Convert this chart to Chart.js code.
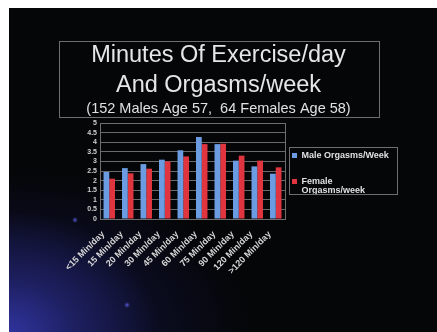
<!DOCTYPE html>
<html>
<head>
<meta charset="utf-8">
<script src="https://cdn.jsdelivr.net/npm/chart.js@4.4.1/dist/chart.umd.min.js"></script>
<style>
  html, body { margin: 0; padding: 0; background: #ffffff; }
  #slide {
    position: absolute; left: 9px; top: 8px; width: 428px; height: 324px;
    background:
      radial-gradient(circle 3px at 66px 212px, rgba(90,90,220,0.9), rgba(90,90,220,0)),
      radial-gradient(circle 3px at 118px 297px, rgba(90,90,220,0.9), rgba(90,90,220,0)),
      radial-gradient(ellipse 150px 120px at 0% 100%, rgba(52,56,170,0.85) 0%, rgba(40,42,130,0.55) 45%, rgba(5,6,8,0) 100%),
      radial-gradient(ellipse 240px 160px at 0% 100%, rgba(30,32,110,0.6) 0%, rgba(5,6,8,0) 100%),
      #050608;
  }
  #wrap { position: absolute; left: 0; top: 0; width: 437px; height: 332px; }
</style>
</head>
<body>
<div id="slide"></div>
<div id="wrap"><canvas id="c" width="437" height="332"></canvas></div>
<script>
// Exercise groups (minutes per day)
const categories = ['<15 Min/day', '15 Min/day', '20 Min/day', '30 Min/day', '45 Min/day',
                    '60 Min/day', '75 Min/day', '90 Min/day', '120 Min/day', '>120 Min/day'];
// Average orgasms per week
const maleValues   = [2.45, 2.65, 2.86, 3.09, 3.58, 4.27, 3.9, 3.04, 2.74, 2.36];
const femaleValues = [2.1, 2.38, 2.62, 3.0, 3.26, 3.9, 3.92, 3.3, 3.04, 2.69];
const seriesNames  = ['Male Orgasms/Week', 'Female Orgasms/week'];
// Legend text, one entry per line
const legendLines  = [['Male Orgasms/Week', ''], ['Female', 'Orgasms/week']];
const yMin = 0, yMax = 5, yStep = 0.5;

const FONT = 'Liberation Sans, Arial, sans-serif';
const LEGEND_FONT_SIZE = 9, LEGEND_BOX = 5, LEGEND_PAD = 7;
const PLOT_LEFT = 100, PLOT_RIGHT = 285;

// Width the legend takes, so the plot area ends at PLOT_RIGHT
const measure = document.createElement('canvas').getContext('2d');
measure.font = `bold ${LEGEND_FONT_SIZE}px ${FONT}`;
const legendTextW = Math.max(...legendLines.flat().map(t => measure.measureText(t).width));
const legendW = LEGEND_PAD + LEGEND_BOX + LEGEND_FONT_SIZE / 2 + legendTextW + 10;
const rightPad = 437 - PLOT_RIGHT - legendW;
// Side boxes are capped at a quarter of the free width; widen the free width on the left
const leftPad = -Math.max(0, Math.ceil(3 * legendW - PLOT_RIGHT) + 2);

// Title and subtitle span the whole canvas width
const centerTitles = {
  id: 'centerTitles',
  afterLayout(chart) {
    chart.boxes.forEach(b => {
      if (b.fullSize && b.position === 'top') { b.left = 0; b.right = chart.width; b.width = chart.width; }
    });
  }
};

// Frames around the title block, the plot area and the legend
const framePlugin = {
  id: 'frames',
  afterDraw(chart) {
    const ctx = chart.ctx;
    const ca = chart.chartArea;
    ctx.save();
    ctx.strokeStyle = '#6e6e6e';
    ctx.lineWidth = 1;
    const cx = chart.width / 2;
    const tTop = chart.titleBlock.top;
    const tBottom = Math.round(ca.top) - 6;
    ctx.strokeRect(Math.round(cx - 160) + 0.5, tTop + 0.5, 320, tBottom - tTop);
    ctx.strokeRect(Math.round(ca.left) + 0.5, Math.round(ca.top) + 0.5,
                   Math.round(ca.right - ca.left), Math.round(ca.bottom - ca.top));
    const boxes = chart.legend.legendHitBoxes;
    if (boxes && boxes.length) {
      const l = Math.round(ca.right) + 4;
      const t = Math.min(...boxes.map(b => b.top)) - 4;
      const r = 397;
      const b = t + 47;
      ctx.strokeRect(l + 0.5, Math.round(t) + 0.5, r - l, Math.round(b - t));
    }
    ctx.restore();
  }
};

new Chart(document.getElementById('c'), {
  type: 'bar',
  data: {
    labels: categories,
    datasets: [
      { label: seriesNames[0], data: maleValues, backgroundColor: '#6b9be0' },
      { label: seriesNames[1], data: femaleValues, backgroundColor: '#e0343f' }
    ]
  },
  options: {
    responsive: false,
    animation: false,
    devicePixelRatio: 1,
    categoryPercentage: 0.62,
    barPercentage: 1,
    layout: { padding: { top: 41, left: leftPad, right: rightPad, bottom: 0 } },
    plugins: {
      title: {
        display: true,
        text: ['Minutes Of Exercise/day', 'And Orgasms/week'],
        color: '#e6e6e6',
        font: { family: FONT, size: 23.5, weight: 'normal', lineHeight: '30px' },
        padding: { top: 0, bottom: 0 }
      },
      subtitle: {
        display: true,
        text: '(152 Males Age 57,  64 Females Age 58)',
        color: '#e0e0e0',
        font: { family: FONT, size: 14.5, weight: 'normal', lineHeight: '14px' },
        padding: { top: 1, bottom: 7 }
      },
      legend: {
        position: 'right',
        align: 'start',
        fullSize: false,
        title: { display: true, text: '', font: { size: 7, lineHeight: '0px' }, padding: { top: 21, bottom: 0 } },
        labels: {
          color: '#e0e0e0',
          boxWidth: LEGEND_BOX,
          boxHeight: LEGEND_BOX,
          padding: LEGEND_PAD,
          font: { family: FONT, size: LEGEND_FONT_SIZE, weight: 'bold', lineHeight: '9.5px' },
          generateLabels(chart) {
            const items = Chart.defaults.plugins.legend.labels.generateLabels(chart);
            return items.map((it, i) => {
              it.text = legendLines[i];
              it.lineWidth = 0;
              return it;
            });
          }
        }
      },
      tooltip: { enabled: false }
    },
    scales: {
      x: {
        grid: { display: false, drawTicks: false },
        border: { display: false },
        ticks: {
          color: '#d8d8d8',
          autoSkip: false,
          minRotation: 45,
          maxRotation: 45,
          padding: 10,
          labelOffset: -6,
          font: { family: FONT, size: 9, weight: 'bold' }
        },
        afterFit(s) { s.height = 113; }
      },
      y: {
        min: yMin,
        max: yMax,
        grid: { color: '#6a6a6a', lineWidth: 1, drawTicks: false },
        border: { display: false },
        ticks: {
          stepSize: yStep,
          autoSkip: false,
          color: '#cfcfcf',
          padding: 3,
          font: { family: FONT, size: 7, weight: 'bold' },
          callback: v => String(v)
        },
        afterFit(s) { s.width = PLOT_LEFT - leftPad; }
      }
    }
  },
  plugins: [centerTitles, framePlugin]
});
</script>
</body>
</html>
